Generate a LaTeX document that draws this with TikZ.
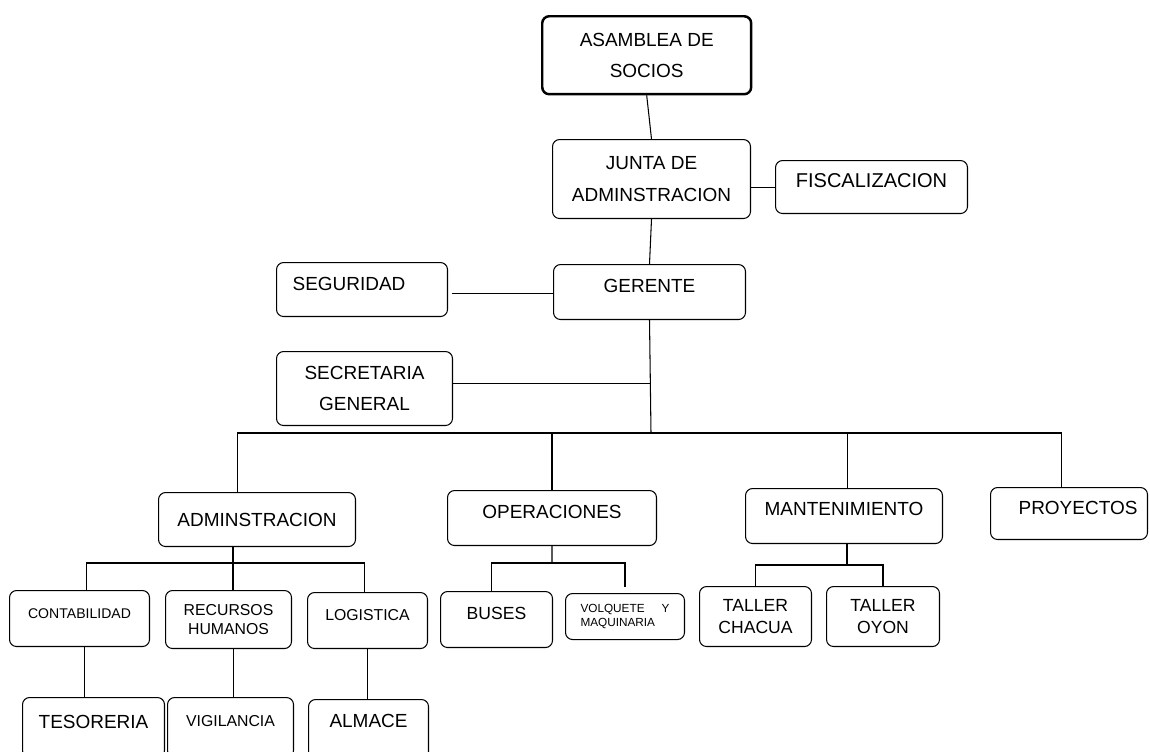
\documentclass[tikz,border=0pt]{standalone}
\usepackage{fontspec}
\setmainfont{Liberation Sans}
\usepackage{tikz}
\newcommand{\letra}{\fontsize{10.8}{13}\selectfont}
\newcommand{\letrachica}{\fontsize{9}{10.8}\selectfont}
\newcommand{\letrataller}{\fontsize{10}{12.5}\selectfont}

\begin{document}
\begin{tikzpicture}[x=0.02cm, y=-0.02cm,
    caja/.style={rectangle, draw=black, line width=0.6pt, rounded corners=4pt, anchor=north west, align=center, inner sep=2pt, font=\letra},
    sube/.style={text depth=#1},
    linea/.style={draw=black, line width=0.6pt}]
    \useasboundingbox (0,0) rectangle (1150,751);

    % Asamblea - top
    \node [caja, line width=1.4pt, minimum width=4.18cm, minimum height=1.56cm] (asamblea) at (541,15) {ASAMBLEA DE\\[4.6pt]SOCIOS};

    % Junta and fiscalizacion
    \node [caja, minimum width=3.96cm, minimum height=1.58cm] (junta) at (552,139) {JUNTA DE\\[5.7pt]ADMINSTRACION};
    \node [caja, sube=7pt, minimum width=3.84cm, minimum height=1.06cm, font=\fontsize{11.4}{13}\selectfont] (fiscalizacion) at (775,160) {FISCALIZACION};

    % Gerente with seguridad and secretaria
    \node [caja, sube=7pt, minimum width=3.84cm, minimum height=1.10cm] (gerente) at (553,264) {GERENTE};
    \node [caja, sube=7pt, minimum width=3.42cm, minimum height=1.08cm] (seguridad) at (276,262) {SEGURIDAD\hspace*{0.52cm}};
    \node [caja, minimum width=3.52cm, minimum height=1.48cm] (secretaria) at (276,351) {SECRETARIA\\[5.1pt]GENERAL};

    % Areas - middle row
    \node [caja, minimum width=3.94cm, minimum height=1.08cm] (admin) at (158,492) {ADMINSTRACION};
    \node [caja, sube=7pt, minimum width=4.18cm, minimum height=1.10cm] (operaciones) at (447,490) {OPERACIONES};
    \node [caja, sube=8pt, minimum width=3.94cm, minimum height=1.10cm] (mantenimiento) at (745,488) {MANTENIMIENTO};
    \node [caja, sube=6pt, minimum width=3.14cm, minimum height=1.04cm] (proyectos) at (990,487) {\hspace*{0.36cm}PROYECTOS};

    % Sub areas
    \node [caja, sube=6pt, minimum width=2.80cm, minimum height=1.12cm, font=\fontsize{8}{9.6}\selectfont] (contabilidad) at (9,590) {CONTABILIDAD};
    \node [caja, minimum width=2.52cm, minimum height=1.16cm, font=\letrachica] (rrhh) at (165,590) {RECURSOS\\HUMANOS};
    \node [caja, sube=6pt, minimum width=2.40cm, minimum height=1.12cm, font=\letrachica] (logistica) at (307,592) {LOGISTICA};
    \node [caja, sube=7pt, minimum width=2.24cm, minimum height=1.12cm, font=\letrataller] (buses) at (440,591) {BUSES};
    \node [caja, align=left, text width=1.78cm, minimum width=2.38cm, minimum height=0.92cm, font=\fontsize{6.7}{8.5}\selectfont] (volquete) at (565,593) {VOLQUETE\hfill Y\\MAQUINARIA};
    \node [caja, minimum width=2.24cm, minimum height=1.20cm, font=\letrataller] (chacua) at (699,586) {TALLER\\CHACUA};
    \node [caja, minimum width=2.26cm, minimum height=1.20cm, font=\letrataller] (oyon) at (826,586) {TALLER\\OYON};

    % Bottom row - cut by the page
    \node [caja, sube=6pt, minimum width=2.84cm, minimum height=1.20cm] (tesoreria) at (22,697) {TESORERIA};
    \node [caja, sube=7pt, minimum width=2.52cm, minimum height=1.20cm, font=\letrachica] (vigilancia) at (167,697) {VIGILANCIA};
    \node [caja, sube=10pt, minimum width=2.40cm, minimum height=1.20cm] (almace) at (308,699) {ALMACE};

    % Branch points
    \coordinate (ramal) at (651,433);
    \coordinate (ramaladm) at (233,563);
    \coordinate (ramalop) at (552,563);
    \coordinate (ramalman) at (847,565);

    % Connections
    \draw [linea] (asamblea.south) -- (junta.north);
    \draw [linea] (fiscalizacion.west) -- (fiscalizacion.west -| junta.east);
    \draw [linea] (junta.south) -- (gerente.north);
    \draw [linea] ([yshift=-0.03cm]gerente.west) -- ([yshift=-0.03cm,xshift=0.08cm]gerente.west -| seguridad.east);
    \draw [linea] (gerente.south) -- (ramal);
    \draw [linea] ([yshift=0.1cm]secretaria.east) -- ([yshift=0.1cm]secretaria.east -| ramal);
    \draw [linea] ([xshift=-0.39cm]admin.north) |- (ramal) -| ([xshift=-0.15cm]proyectos.north);
    \draw [linea] (operaciones.north) -- (operaciones.north |- ramal);
    \draw [linea] ([xshift=0.07cm]mantenimiento.north) -- ([xshift=0.07cm]mantenimiento.north |- ramal);

    \draw [linea] (admin.south -| ramaladm) -- (ramaladm);
    \draw [linea] ([xshift=0.14cm]contabilidad.north) |- (ramaladm) -| ([xshift=-0.06cm]logistica.north);
    \draw [linea] (ramaladm) -- (ramaladm |- rrhh.north);
    \draw [linea] ([xshift=0.1cm]contabilidad.south) -- ([xshift=0.1cm]contabilidad.south |- tesoreria.north);
    \draw [linea] ([xshift=0.1cm]rrhh.south) -- ([xshift=0.1cm]rrhh.south |- vigilancia.north);
    \draw [linea] (logistica.south) -- (logistica.south |- almace.north);

    \draw [linea] (operaciones.south) -- (ramalop);
    \draw [linea] ([xshift=-0.1cm]buses.north) |- (ramalop) -| ([yshift=0.12cm]volquete.north);

    \draw [linea] (mantenimiento.south -| ramalman) -- (ramalman);
    \draw [linea] (chacua.north) |- (ramalman) -| (oyon.north);
\end{tikzpicture}
\end{document}
